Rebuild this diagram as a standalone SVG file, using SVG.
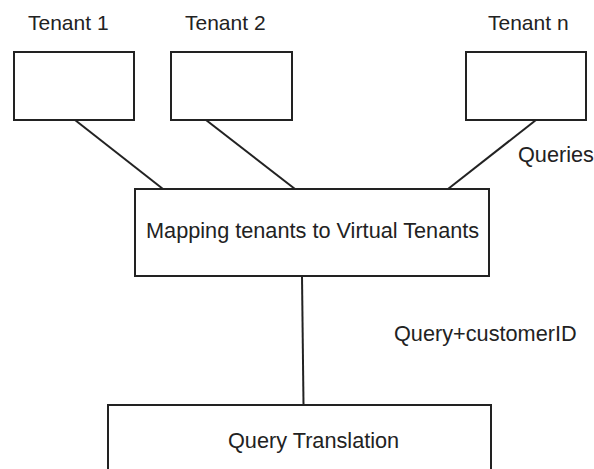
<svg xmlns="http://www.w3.org/2000/svg" width="594" height="469" viewBox="0 0 594 469">
<style>
.box{fill:#fff;stroke:#222;stroke-width:2}
.ln{stroke:#222;stroke-width:2;fill:none}
text{font-family:"Liberation Sans",Arial,sans-serif;font-size:21.7px;fill:#222}
.t{font-size:21px}
</style>
<rect width="594" height="469" fill="#fff"/>
<g id="connectors">
<line class="ln" x1="75" y1="120" x2="163" y2="189"/>
<line class="ln" x1="206" y1="120" x2="295" y2="189"/>
<line class="ln" x1="536" y1="120" x2="448" y2="189"/>
<line class="ln" x1="302" y1="276" x2="303.5" y2="405"/>
</g>
<g id="tenant1">
<text class="t" x="28" y="30">Tenant 1</text>
<rect class="box" x="14" y="52" width="120" height="68"/>
</g>
<g id="tenant2">
<text class="t" x="185" y="30">Tenant 2</text>
<rect class="box" x="171" y="52" width="121" height="68"/>
</g>
<g id="tenantn">
<text class="t" x="488" y="30">Tenant n</text>
<rect class="box" x="466" y="52" width="120" height="68"/>
</g>
<text x="518" y="162">Queries</text>
<g id="mapping">
<rect class="box" x="135" y="189" width="354" height="87"/>
<text x="146" y="238">Mapping tenants to Virtual Tenants</text>
</g>
<text x="394" y="341">Query+customerID</text>
<g id="translation">
<rect class="box" x="108" y="405" width="383" height="80"/>
<text x="228" y="448">Query Translation</text>
</g>
</svg>
